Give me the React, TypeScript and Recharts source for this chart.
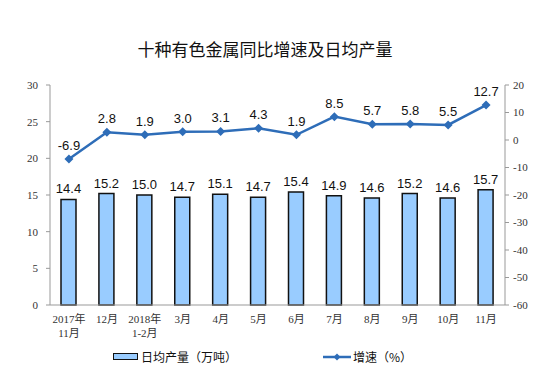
import React from 'react';
import { ComposedChart, Bar, Line, XAxis, YAxis, LabelList } from 'recharts';

const months = ['2017年\n11月', '12月', '2018年\n1-2月', '3月', '4月', '5月', '6月', '7月', '8月', '9月', '10月', '11月'];
const dailyOutput = [14.4, 15.2, 15.0, 14.7, 15.1, 14.7, 15.4, 14.9, 14.6, 15.2, 14.6, 15.7];
const growth = [-6.9, 2.8, 1.9, 3.0, 3.1, 4.3, 1.9, 8.5, 5.7, 5.8, 5.5, 12.7];
const leftTicks = [0, 5, 10, 15, 20, 25, 30];
const rightTicks = [-60, -50, -40, -30, -20, -10, 0, 10, 20];

const data = months.map((m, i) => ({ month: m, output: dailyOutput[i], growth: growth[i] }));

const axisFont = '"Liberation Serif", "Noto Sans CJK SC", serif';
const labelFont = '"Liberation Sans", Arial, sans-serif';

const MonthTick = (props: any) => {
  const { x, y, payload } = props;
  const lines = String(payload.value).split('\n');
  return (
    <text x={x} y={y + 2} textAnchor="middle" fontSize={11} fill="#333" fontFamily={axisFont}>
      {lines.map((l, i) => (
        <tspan key={i} x={x} dy={i === 0 ? 8 : 14}>{l}</tspan>
      ))}
    </text>
  );
};

const Diamond = (props: any) => {
  const { cx, cy } = props;
  if (cx == null || cy == null) return null;
  const r = 4.5;
  return <polygon points={`${cx},${cy - r} ${cx + r},${cy} ${cx},${cy + r} ${cx - r},${cy}`} fill="#2E6DB8" />;
};

export default function App() {
  return (
    <div style={{ position: 'relative', width: 545, height: 378, margin: -8, background: '#fff' }}>
      <div style={{ position: 'absolute', top: 36, left: 0, width: 530, textAlign: 'center', fontSize: 17, fontFamily: '"Noto Sans CJK SC", sans-serif', color: '#111' }}>
        十种有色金属同比增速及日均产量
      </div>
      <ComposedChart width={545} height={378} data={data} margin={{ top: 85, right: 5, bottom: 43, left: 10 }}>
        <XAxis dataKey="month" interval={0} tick={<MonthTick />} tickLine={false} axisLine={{ stroke: '#999' }} height={30} />
        <YAxis yAxisId="left" domain={[0, 30]} ticks={leftTicks} width={40} tickSize={4} tickMargin={8}
          tick={{ fontSize: 11, fill: '#333', fontFamily: axisFont }} axisLine={{ stroke: '#999' }} tickLine={{ stroke: '#999' }} />
        <YAxis yAxisId="right" orientation="right" domain={[-60, 20]} ticks={rightTicks} width={35} tickSize={4} tickMargin={4}
          tick={{ fontSize: 11, fill: '#333', fontFamily: axisFont }} axisLine={{ stroke: '#999' }} tickLine={{ stroke: '#999' }} />
        <Bar yAxisId="left" dataKey="output" barSize={15} fill="#99CCFF" stroke="#111" strokeWidth={1.5} isAnimationActive={false}>
          <LabelList dataKey="output" position="top" offset={6} formatter={(v: any) => Number(v).toFixed(1)}
            style={{ fontSize: 13, fill: '#111', fontFamily: labelFont }} />
        </Bar>
        <Line yAxisId="right" dataKey="growth" stroke="#2E6DB8" strokeWidth={2.5} dot={<Diamond />} activeDot={false} isAnimationActive={false}>
          <LabelList dataKey="growth" position="top" offset={9} formatter={(v: any) => Number(v).toFixed(1)}
            style={{ fontSize: 13, fill: '#111', fontFamily: labelFont }} />
        </Line>
      </ComposedChart>
      <div style={{ position: 'absolute', top: 348, left: 113, display: 'flex', alignItems: 'center', fontSize: 12, fontFamily: '"Noto Sans CJK SC", sans-serif', color: '#111' }}>
        <span style={{ display: 'inline-block', width: 23, height: 5, background: '#99CCFF', border: '1.5px solid #111', marginRight: 3 }} />
        日均产量（万吨）
      </div>
      <div style={{ position: 'absolute', top: 348, left: 323, display: 'flex', alignItems: 'center', fontSize: 12, fontFamily: '"Noto Sans CJK SC", sans-serif', color: '#111' }}>
        <svg width={28} height={10} style={{ marginRight: 2 }}>
          <line x1={0} y1={5} x2={28} y2={5} stroke="#2E6DB8" strokeWidth={2.5} />
          <polygon points="14,1.5 17.5,5 14,8.5 10.5,5" fill="#2E6DB8" />
        </svg>
        增速（%）
      </div>
    </div>
  );
}
